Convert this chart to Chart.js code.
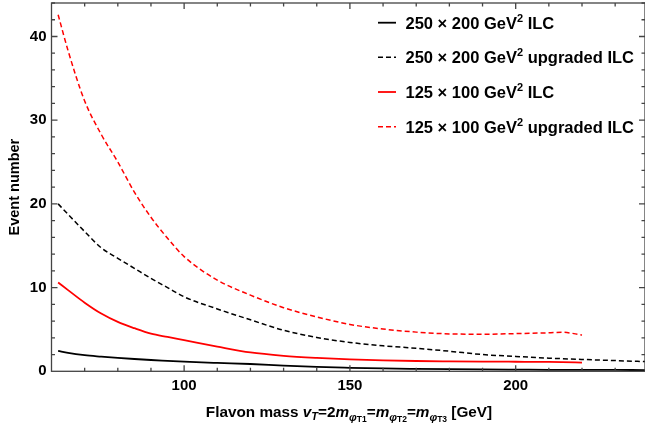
<!DOCTYPE html>
<html>
<head>
<meta charset="utf-8">
<script src="https://cdn.jsdelivr.net/npm/chart.js@4.4.0/dist/chart.umd.min.js"></script>
<style>
	body { margin: 0; background: #fff; }
	#wrap { width: 645px; height: 430px; }
</style>
</head>
<body>
<div id="wrap"><canvas id="eventChart" width="645" height="430"></canvas></div>
<script>
//	Flavon masses [GeV] sampled for each curve
var massBlack = [62, 65, 70, 75, 80, 85, 90, 95, 100, 110, 120, 130, 140, 150, 160, 170, 180, 190, 200, 210, 220, 230, 240];
var massRed = [62, 65, 70, 75, 80, 85, 90, 95, 100, 110, 120, 130, 140, 150, 160, 170, 180, 190, 200, 210, 214, 220];

//	Event numbers
var ilc250 = [2.45, 2.2, 1.92, 1.75, 1.6, 1.47, 1.35, 1.25, 1.15, 1.0, 0.87, 0.68, 0.52, 0.42, 0.34, 0.29, 0.25, 0.22, 0.2, 0.18, 0.17, 0.16, 0.15];
var upgraded250 = [20.0, 18.75, 16.7, 14.75, 13.5, 12.3, 11.1, 10.0, 8.9, 7.45, 6.15, 4.9, 4.05, 3.45, 3.05, 2.75, 2.4, 2.0, 1.78, 1.57, 1.42, 1.28, 1.15];
var ilc125 = [10.6, 9.7, 8.2, 6.9, 5.9, 5.15, 4.5, 4.1, 3.72, 2.95, 2.25, 1.85, 1.6, 1.42, 1.3, 1.23, 1.19, 1.16, 1.14, 1.12, 1.1, 1.03];
var upgraded125 = [42.6, 38.3, 32.3, 28.3, 25.0, 21.4, 18.4, 15.9, 13.7, 10.9, 9.1, 7.6, 6.5, 5.6, 5.05, 4.68, 4.47, 4.43, 4.5, 4.6, 4.66, 4.34];

//	Tick labels
var xTickValues = [100, 150, 200];
var yTickValues = [0, 10, 20, 30, 40];

var seriesLabels = ["250 × 200 GeV² ILC", "250 × 200 GeV² upgraded ILC", "125 × 100 GeV² ILC", "125 × 100 GeV² upgraded ILC"];

function toPoints(xs, ys) {
	var pts = [];
	for (let i = 0; i < xs.length; i++) {
		pts.push({ x: xs[i], y: ys[i] });
	}
	return pts;
}

/**
 *	Draw a string made of pieces with their own font and baseline shift
 */
function drawRich(ctx, parts, x, y, align) {
	var total = 0;
	for (let i = 0; i < parts.length; i++) {
		ctx.font = parts[i].font;
		total += ctx.measureText(parts[i].t).width;
	}
	var cx = align === 'center' ? x - total / 2 : x;
	ctx.textAlign = 'left';
	ctx.textBaseline = 'alphabetic';
	for (let i = 0; i < parts.length; i++) {
		ctx.font = parts[i].font;
		ctx.fillText(parts[i].t, cx, y + (parts[i].dy || 0));
		cx += ctx.measureText(parts[i].t).width;
	}
}

var FF = '"Liberation Sans", Arial, sans-serif';

//	Frame with inward ticks, legend inside the plot and the x axis title
var framePlugin = {
	id: 'frame',
	afterDraw: function (chart) {
		var ctx = chart.ctx;
		var a = chart.chartArea;
		var xs = chart.scales.x;
		var ys = chart.scales.y;
		ctx.save();
		ctx.strokeStyle = '#444';
		ctx.lineWidth = 1.3;
		ctx.strokeRect(a.left, a.top, a.right - a.left, a.bottom - a.top);
		ctx.beginPath();
		for (let v = 70; v <= 230; v += 10) {
			var len = (v % 50 === 0) ? 6 : 3.5;
			var px = xs.getPixelForValue(v);
			ctx.moveTo(px, a.bottom);
			ctx.lineTo(px, a.bottom - len);
			ctx.moveTo(px, a.top);
			ctx.lineTo(px, a.top + len);
		}
		for (let v = 2; v <= 44; v += 2) {
			var len2 = (v % 10 === 0) ? 6 : 3.5;
			var py = ys.getPixelForValue(v);
			ctx.moveTo(a.left, py);
			ctx.lineTo(a.left + len2, py);
			ctx.moveTo(a.right, py);
			ctx.lineTo(a.right - len2, py);
		}
		ctx.stroke();

		//	Legend
		var rowY = [22.7, 57.3, 92, 126.7];
		chart.data.datasets.forEach(function (ds, i) {
			ctx.strokeStyle = ds.borderColor;
			ctx.lineWidth = ds.borderWidth;
			ctx.setLineDash(ds.borderDash || []);
			ctx.beginPath();
			ctx.moveTo(378, rowY[i]);
			ctx.lineTo(396, rowY[i]);
			ctx.stroke();
			ctx.setLineDash([]);
			var bits = ds.label.split('²');
			ctx.fillStyle = '#000';
			drawRich(ctx, [
				{ t: bits[0], font: 'bold 16.5px ' + FF },
				{ t: '2', font: 'bold 11px ' + FF, dy: -7 },
				{ t: bits[1], font: 'bold 16.5px ' + FF }
			], 405.5, rowY[i] + 6, 'left');
		});

		//	X axis title with subscripts
		var big = 'bold 15.3px ' + FF;
		var it = 'italic bold 15.3px ' + FF;
		var sub = 'italic bold 11px ' + FF;
		var sub2 = 'bold 8.5px ' + FF;
		ctx.fillStyle = '#000';
		drawRich(ctx, [
			{ t: 'Flavon mass ', font: big },
			{ t: 'v', font: it },
			{ t: 'T', font: sub, dy: 3 },
			{ t: '=2', font: big },
			{ t: 'm', font: it },
			{ t: 'φ', font: sub, dy: 4 },
			{ t: 'T1', font: sub2, dy: 5 },
			{ t: '=', font: big },
			{ t: 'm', font: it },
			{ t: 'φ', font: sub, dy: 4 },
			{ t: 'T2', font: sub2, dy: 5 },
			{ t: '=', font: big },
			{ t: 'm', font: it },
			{ t: 'φ', font: sub, dy: 4 },
			{ t: 'T3', font: sub2, dy: 5 },
			{ t: ' [GeV]', font: big }
		], 349, 416.5, 'center');
		ctx.restore();
	}
};

var ctx = document.getElementById('eventChart');
var newChart = new Chart(ctx, {
	type: 'line',
	data: {
		datasets: [{
				//	250 x 200 ILC
				label: seriesLabels[0],
				data: toPoints(massBlack, ilc250),
				borderColor: '#000000',
				borderWidth: 1.8
			},
			{
				label: seriesLabels[1],
				data: toPoints(massBlack, upgraded250),
				borderColor: '#000000',
				borderWidth: 1.5,
				borderDash: [5, 3]
			},
			{
				label: seriesLabels[2],
				data: toPoints(massRed, ilc125),
				borderColor: '#ff0000',
				borderWidth: 1.8
			},
			{
				label: seriesLabels[3],
				data: toPoints(massRed, upgraded125),
				borderColor: '#ff0000',
				borderWidth: 1.5,
				borderDash: [5, 3]
			}
		]
	},
	options: {
		responsive: false,
		animation: false,
		devicePixelRatio: 1,
		layout: { autoPadding: false, padding: { top: 3, right: 0, left: 0, bottom: 0 } },
		elements: {
			point: { radius: 0 },
			line: { cubicInterpolationMode: 'monotone', fill: false }
		},
		plugins: {
			legend: { display: false },
			tooltip: { enabled: false },
			title: { display: false }
		},
		scales: {
			x: {
				type: 'linear',
				min: 60,
				max: 239,
				grid: { display: false, drawTicks: false, tickLength: 0 },
				border: { display: false },
				afterBuildTicks: function (scale) {
					scale.ticks = xTickValues.map(function (v) { return { value: v }; });
				},
				afterFit: function (scale) {
					scale.height = 430 - 371.3;
					scale.paddingLeft = 0;
					scale.paddingRight = 0;
				},
				ticks: {
					padding: 6,
					maxRotation: 0,
					color: '#000',
					font: { family: FF, size: 15, weight: 'bold' }
				}
			},
			y: {
				type: 'linear',
				min: 0,
				max: 44,
				grid: { display: false, drawTicks: false, tickLength: 0 },
				border: { display: false },
				afterBuildTicks: function (scale) {
					scale.ticks = yTickValues.map(function (v) { return { value: v }; });
				},
				afterFit: function (scale) {
					scale.width = 51.5;
					scale.paddingTop = 0;
					scale.paddingBottom = 0;
				},
				ticks: {
					padding: 5,
					color: '#000',
					font: { family: FF, size: 15, weight: 'bold' }
				},
				title: {
					display: true,
					text: 'Event number',
					color: '#000',
					padding: { top: 6, bottom: 0 },
					font: { family: FF, size: 14.5, weight: 'bold' }
				}
			}
		}
	},
	plugins: [framePlugin]
});
</script>
</body>
</html>
